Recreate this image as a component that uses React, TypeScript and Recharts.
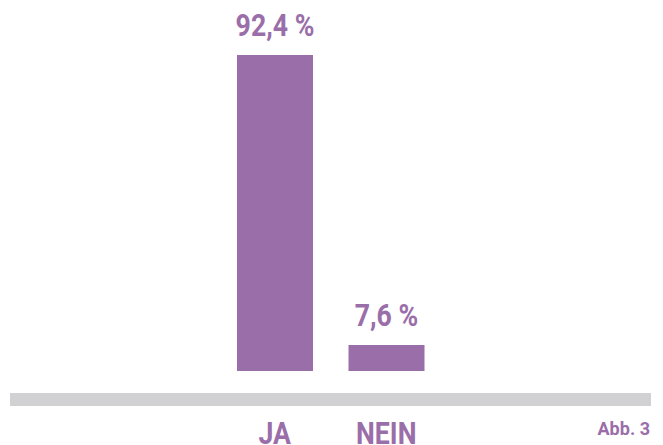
import React from "react";
import { BarChart, Bar, XAxis, YAxis, LabelList } from "recharts";

const categories = ["JA", "NEIN"];
const values = [92.4, 7.6];
const figureLabel = "Abb. 3";

const data = categories.map((c, i) => ({ name: c, value: values[i] }));

const PURPLE = "#9a6ea9";
const GRAY = "#d1d1d3";
const FONT = "Roboto, 'Noto Sans', sans-serif";
const SX = 0.86;

const Tick = (props: any) => {
  const { x, payload } = props;
  return (
    <text
      transform={`translate(${x}, 444) scale(${SX}, 1)`}
      x={0}
      y={0}
      textAnchor="middle"
      fill={PURPLE}
      fontFamily={FONT}
      fontWeight="bold"
      fontSize={31}
    >
      {payload.value}
    </text>
  );
};

const ValueLabel = (props: any) => {
  const { x, y, width, value } = props;
  const cx = Number(x) + Number(width) / 2;
  const by = Number(y) - 19;
  return (
    <text
      transform={`translate(${cx}, ${by}) scale(${SX}, 1)`}
      x={0}
      y={0}
      textAnchor="middle"
      fill={PURPLE}
      fontFamily={FONT}
      fontWeight="bold"
      fontSize={31}
    >
      {`${String(value).replace(".", ",")} %`}
    </text>
  );
};

export default function App() {
  return (
    <div style={{ position: "absolute", left: 0, top: 0, width: 663, height: 445, background: "#fff", overflow: "hidden" }}>
      <div style={{ position: "absolute", left: 10, top: 393, width: 641, height: 13, background: GRAY }} />
      <BarChart
        width={663}
        height={445}
        data={data}
        margin={{ top: 29, right: 221, bottom: 0, left: 219 }}
      >
        <YAxis hide domain={[0, 100]} />
        <XAxis dataKey="name" axisLine={false} tickLine={false} height={74} tick={<Tick />} interval={0} />
        <Bar dataKey="value" fill={PURPLE} barSize={76} isAnimationActive={false}>
          <LabelList dataKey="value" content={<ValueLabel />} />
        </Bar>
      </BarChart>
      <div
        style={{
          position: "absolute",
          left: 560,
          top: 418,
          width: 90,
          textAlign: "right",
          color: PURPLE,
          fontFamily: FONT,
          fontWeight: "bold",
          fontSize: 19,
          lineHeight: "22px",
          transform: "scaleX(0.95)",
          transformOrigin: "right center",
        }}
      >
        {figureLabel}
      </div>
    </div>
  );
}
